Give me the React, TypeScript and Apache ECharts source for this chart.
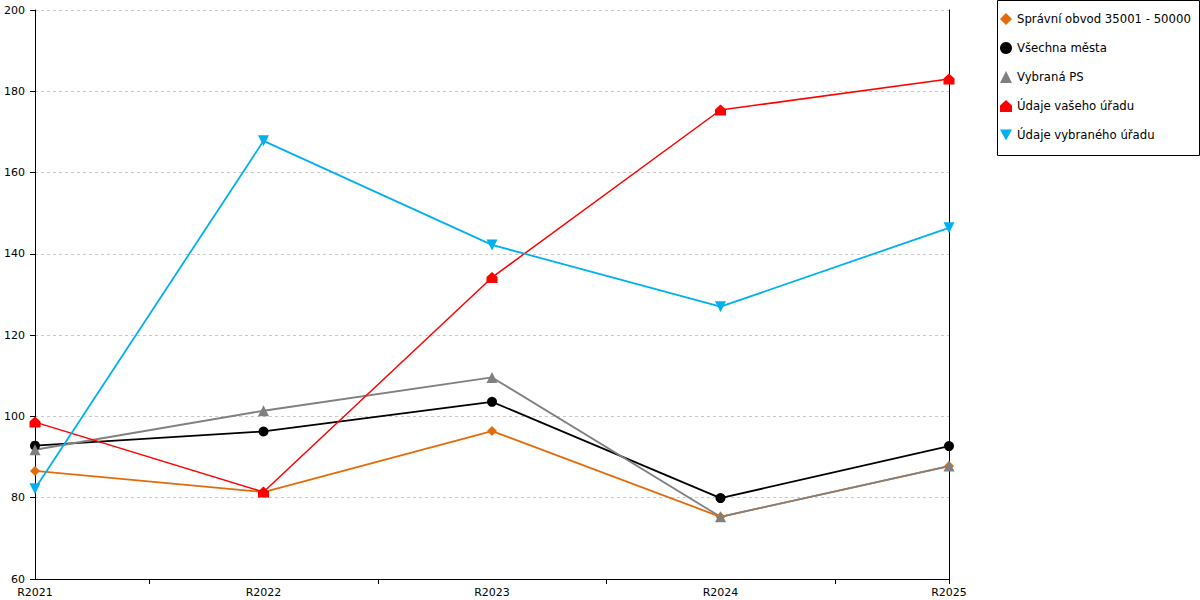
import React, { useEffect, useRef } from "react";
import * as echarts from "echarts";

const categories = ["R2021", "R2022", "R2023", "R2024", "R2025"];
const tickSlots = ["s0", "s1", "s2", "s3", "s4", "s5", "s6", "s7", "s8"];

const spravniObvod = [86.6, 81.4, 96.4, 75.3, 87.8];
const vsechnaMesta = [92.8, 96.3, 103.6, 79.9, 92.7];
const vybranaPS = [91.8, 101.4, 109.6, 75.3, 87.8];
const udajeVaseho = [98.6, 81.4, 134.2, 175.4, 183.0];
const udajeVybraneho = [82.2, 167.8, 142.2, 127.0, 146.4];

const seriesNames = [
  "Správní obvod 35001 - 50000",
  "Všechna města",
  "Vybraná PS",
  "Údaje vašeho úřadu",
  "Údaje vybraného úřadu",
];

const HOUSE = "path://M5,0 L10,4.5 L10,10 L0,10 L0,4.5 Z";
const DOWN = "path://M0,0 L10,0 L5,9 Z";

const FONT = "DejaVu Sans";

export default function App() {
  const ref = useRef<HTMLDivElement>(null);
  useEffect(() => {
    if (!ref.current) return;
    const chart = echarts.init(ref.current, undefined, { renderer: "svg" });
    const mk = (
      name: string,
      data: number[],
      color: string,
      symbol: string,
      size: number,
      width: number
    ) => ({
      name,
      type: "line",
      data,
      symbol,
      symbolSize: size,
      showAllSymbol: true,
      lineStyle: { color, width },
      itemStyle: { color },
      emphasis: { disabled: true },
    });
    chart.setOption({
      animation: false,
      backgroundColor: "#fff",
      textStyle: { fontFamily: FONT },
      grid: { left: 35, right: 251, top: 10, bottom: 21, containLabel: false },
      graphic: [
        {
          type: "rect",
          shape: { x: 997.5, y: 0.5, width: 202, height: 155 },
          style: { fill: "#fff", stroke: "#000", lineWidth: 1 },
          z: 0,
        },
      ],
      legend: {
        orient: "vertical",
        left: 997,
        top: 1,
        padding: [12, 4, 4, 3],
        itemWidth: 12,
        itemHeight: 12,
        itemGap: 17,
        textStyle: { fontFamily: FONT, fontSize: 11.7, color: "#000" },
        z: 5,
        data: [
          { name: seriesNames[0], icon: "diamond", itemStyle: { color: "#E36C0A" } },
          { name: seriesNames[1], icon: "circle", itemStyle: { color: "#000" } },
          { name: seriesNames[2], icon: "triangle", itemStyle: { color: "#808080" } },
          { name: seriesNames[3], icon: HOUSE, itemStyle: { color: "#FF0000" } },
          { name: seriesNames[4], icon: DOWN, itemStyle: { color: "#00B0F0" } },
        ],
      },
      xAxis: [
        {
          type: "category",
          data: categories,
          boundaryGap: false,
          axisLine: { show: true, lineStyle: { color: "#000", width: 1 } },
          axisTick: { show: false },
          axisLabel: { color: "#000", fontFamily: FONT, fontSize: 11, margin: 8 },
          splitLine: { show: false },
        },
        {
          type: "category",
          data: tickSlots,
          position: "bottom",
          boundaryGap: false,
          axisLine: { show: false },
          axisLabel: { show: false },
          axisTick: {
            show: true,
            length: 5,
            interval: (i: number) => i === 1 || i === 3 || i === 5 || i === 7 || i === 8,
            lineStyle: { color: "#000", width: 1 },
          },
          splitLine: { show: false },
        },
      ],
      yAxis: [
        {
          type: "value",
          min: 60,
          max: 200,
          interval: 20,
          axisLine: { show: true, lineStyle: { color: "#000", width: 1 } },
          axisTick: { show: true, length: 5, lineStyle: { color: "#000" } },
          axisLabel: { color: "#000", fontFamily: FONT, fontSize: 11, margin: 10 },
          splitLine: { show: true, lineStyle: { color: "#c8c8c8", type: [3, 3], width: 1 } },
        },
        {
          type: "value",
          position: "right",
          min: 60,
          max: 200,
          interval: 20,
          axisLine: { show: true, lineStyle: { color: "#000", width: 1 } },
          axisTick: { show: false },
          axisLabel: { show: false },
          splitLine: { show: false },
        },
      ],
      series: [
        mk(seriesNames[0], spravniObvod, "#E36C0A", "diamond", 10, 1.8),
        mk(seriesNames[1], vsechnaMesta, "#000000", "circle", 10, 1.8),
        mk(seriesNames[2], vybranaPS, "#808080", "triangle", 11, 1.8),
        mk(seriesNames[3], udajeVaseho, "#FF0000", HOUSE, 11, 1.5),
        mk(seriesNames[4], udajeVybraneho, "#00B0F0", DOWN, 11, 1.8),
      ],
    });
    return () => chart.dispose();
  }, []);
  return (
    <div
      ref={ref}
      style={{ position: "absolute", left: 0, top: 0, width: 1200, height: 600 }}
    />
  );
}
